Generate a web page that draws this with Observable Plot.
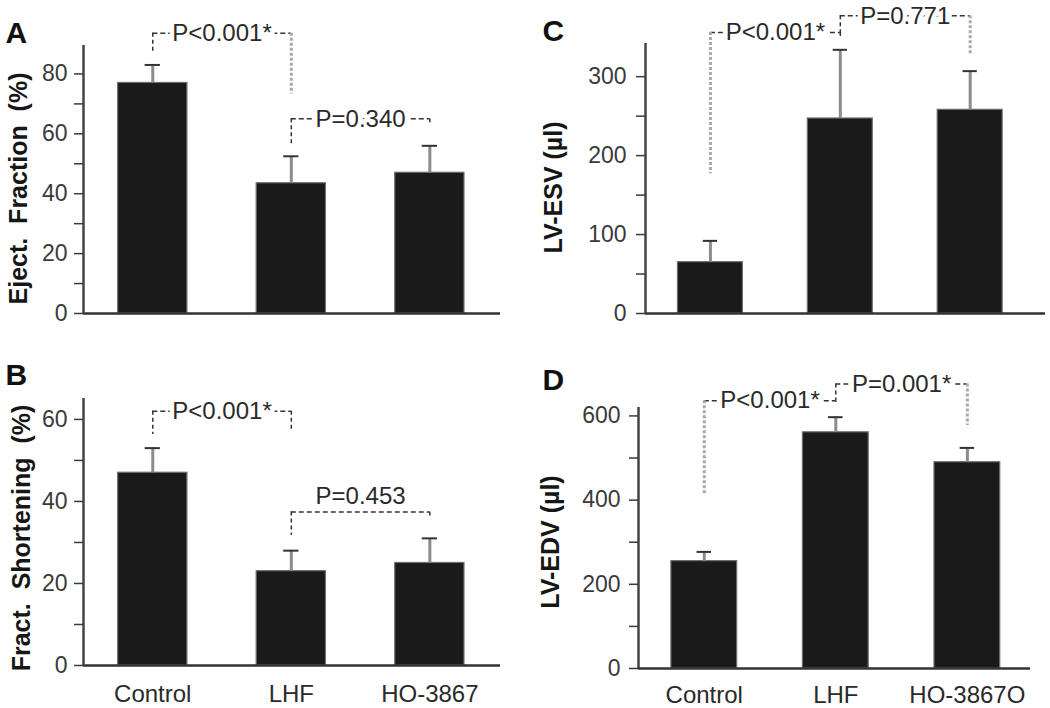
<!DOCTYPE html>
<html><head><meta charset="utf-8">
<script src="https://cdn.jsdelivr.net/npm/d3@7"></script>
<script src="https://cdn.jsdelivr.net/npm/@observablehq/plot@0.6"></script>
<style>
body{margin:0;background:#fff;}
#wrap{position:relative;width:1050px;height:708px;overflow:hidden;background:#fff;}
#wrap svg{position:absolute;}
</style></head><body><div id="wrap"></div>
<script>
// ---------- data ----------
const groups = ["Control", "LHF", "HO-3867"];
const groupsD = ["Control", "LHF", "HO-3867O"];

const efMean = [77, 43.5, 47];     const efErr = [6, 9, 9];
const fsMean = [47, 23, 25];       const fsErr = [6, 5, 6];
const esvMean = [65, 247, 258];    const esvErr = [27, 87, 49];
const edvMean = [255, 561, 490];   const edvErr = [22, 36, 34];

const efTicks = [0, 20, 40, 60, 80];     const efMinor = [10, 30, 50, 70];
const fsTicks = [0, 20, 40, 60];         const fsMinor = [10, 30, 50];
const esvTicks = [0, 100, 200, 300];     const esvMinor = [50, 150, 250];
const edvTicks = [0, 200, 400, 600];     const edvMinor = [100, 300, 500];

// significance brackets (group indices, bracket level, leg ends, label) in data units
const efBrackets = [
  {from: 0, to: 1, level: 93.6, leftEnd: 86.7, rightEnd: 73.3, label: "P<0.001*"},
  {from: 1, to: 2, level: 65, leftEnd: 56.7, rightEnd: 63.3, label: "P=0.340"}
];
const fsBrackets = [
  {from: 0, to: 1, level: 62, leftEnd: 56.3, rightEnd: 57.3, label: "P<0.001*"},
  {from: 1, to: 2, level: 37.4, leftEnd: 31.7, rightEnd: 36.2, label: "P=0.453"}
];
const esvBrackets = [
  {from: 0, to: 1, level: 356, leftEnd: 177, rightEnd: 350, label: "P<0.001*"},
  {from: 1, to: 2, level: 377, leftEnd: 353, rightEnd: 327, label: "P=0.771"}
];
const edvBrackets = [
  {from: 0, to: 1, level: 636, leftEnd: 415, rightEnd: 632, label: "P<0.001*"},
  {from: 1, to: 2, level: 676, leftEnd: 636, rightEnd: 577, label: "P=0.001*"}
];

// ---------- drawing ----------
const FONT = "'Liberation Sans', Arial, Helvetica, sans-serif";

function panel(cfg) {
  const rows = cfg.mean.map((m, i) => ({i, mean: m, err: cfg.err[i]}));
  const yMax = cfg.yDomain[1];
  const legs = cfg.brackets.flatMap(b => [
    {x: b.from, y1: b.level, y2: b.leftEnd},
    {x: b.to, y1: b.level, y2: b.rightEnd}
  ]);
  const isLong = l => (l.y1 - l.y2) > 0.12 * yMax;
  const inline = cfg.brackets.filter((b, k) => !cfg.above.includes(k));
  const above = cfg.brackets.filter((b, k) => cfg.above.includes(k));
  const textStyle = {fontSize: 24, fill: "#2a2a2a", fontFamily: FONT};

  const marks = [
    Plot.rect(rows, {x1: d => d.i - 0.25, x2: d => d.i + 0.25, y1: 0, y2: "mean",
      fill: "#1a1a1a", stroke: "#6e6e6e", strokeWidth: 1.2}),
    Plot.ruleX(rows, {x: "i", y1: "mean", y2: d => d.mean + d.err, stroke: "#8c8c8c", strokeWidth: 3}),
    Plot.ruleY(rows, {y: d => d.mean + d.err, x1: d => d.i - 0.055, x2: d => d.i + 0.055,
      stroke: "#333", strokeWidth: 2}),
    Plot.ruleY([0], {stroke: "#333", strokeWidth: 2.5}),
    Plot.ruleX([cfg.xDomain[0]], {stroke: "#444", strokeWidth: 2.5}),
    Plot.axisY({ticks: cfg.ticks, tickSize: 9, tickPadding: cfg.tickPad, color: "#3a3a3a",
      strokeWidth: 1.5, fontSize: 23, fontFamily: FONT, label: null}),
    Plot.axisY({ticks: cfg.minor, tickSize: 9, text: null, color: "#3a3a3a", strokeWidth: 1.5, label: null}),
    // bracket horizontal
    Plot.ruleY(cfg.brackets, {y: "level", x1: "from", x2: "to", stroke: "#333",
      strokeDasharray: "5,3", strokeWidth: 1.5}),
    Plot.ruleX(legs.filter(l => !isLong(l)), {x: "x", y1: "y1", y2: "y2", stroke: "#333",
      strokeDasharray: "4,3", strokeWidth: 1.5}),
    Plot.ruleX(legs.filter(isLong), {x: "x", y1: "y1", y2: "y2", stroke: "#a9a9a9",
      strokeDasharray: "3,2", strokeWidth: 3}),
    Plot.text(inline, {x: d => (d.from + d.to) / 2, y: "level", text: "label", lineAnchor: "middle",
      stroke: "white", strokeWidth: 9, paintOrder: "stroke", ...textStyle}),
    Plot.text(above, {x: d => (d.from + d.to) / 2, y: "level", text: "label", lineAnchor: "bottom",
      dy: -8, ...textStyle}),
    Plot.text([cfg.ylabel], {frameAnchor: "left", rotate: -90, dx: cfg.labelDx, dy: cfg.labelDy,
      textAnchor: "middle", lineAnchor: "middle", fontSize: 25, fontWeight: "bold", fill: "#161616", fontFamily: FONT}),
    Plot.text([cfg.letter], {frameAnchor: "top-left", textAnchor: "start", lineAnchor: "top",
      dx: cfg.letterDx, dy: cfg.letterDy, fontSize: 30, fontWeight: "bold", fill: "#111", fontFamily: FONT})
  ];
  if (cfg.cats) {
    marks.push(Plot.axisX({ticks: [0, 1, 2], tickFormat: i => cfg.cats[i], tickSize: 0,
      tickPadding: cfg.xPad, fontSize: 24, color: "#2a2a2a", fontFamily: FONT, label: null}));
  }
  const svg = Plot.plot({
    width: cfg.width, height: cfg.height,
    marginLeft: cfg.ml, marginRight: cfg.mr, marginTop: cfg.mt, marginBottom: cfg.mb,
    x: {type: "linear", domain: cfg.xDomain, axis: null},
    y: {domain: cfg.yDomain, axis: null},
    style: {fontFamily: FONT, fontSize: "23px", background: "transparent", overflow: "visible"},
    marks
  });
  svg.style.left = cfg.left + "px";
  svg.style.top = cfg.top + "px";
  document.getElementById("wrap").appendChild(svg);
}

panel({letter: "A", ylabel: "Eject.\u00a0 Fraction \u00a0(%)", mean: efMean, err: efErr,
  ticks: efTicks, minor: efMinor, brackets: efBrackets, above: [],
  left: 0, top: 0, width: 520, height: 330, ml: 83, mr: 20, mt: 45, mb: 17,
  yDomain: [0, 89.5], xDomain: [-0.5, 2.51], tickPad: 7,
  labelDx: -65, labelDy: 9, letterDx: -78, letterDy: -24});

panel({letter: "B", ylabel: "Fract.\u00a0 Shortening \u00a0(%)", mean: fsMean, err: fsErr,
  ticks: fsTicks, minor: fsMinor, brackets: fsBrackets, above: [1], cats: groups, xPad: 19,
  left: 0, top: 330, width: 520, height: 378, ml: 83, mr: 20, mt: 68, mb: 43,
  yDomain: [0, 65.1], xDomain: [-0.5, 2.51], tickPad: 7,
  labelDx: -62, labelDy: 6, letterDx: -78, letterDy: -35});

panel({letter: "C", ylabel: "LV-ESV (\u00b5l)", mean: esvMean, err: esvErr,
  ticks: esvTicks, minor: esvMinor, brackets: esvBrackets, above: [],
  left: 520, top: 0, width: 530, height: 330, ml: 125, mr: 5, mt: 43, mb: 17,
  yDomain: [0, 342], xDomain: [-0.5, 2.58], tickPad: 10,
  labelDx: -92, labelDy: 9, letterDx: -103, letterDy: -24});

panel({letter: "D", ylabel: "LV-EDV (\u00b5l)", mean: edvMean, err: edvErr,
  ticks: edvTicks, minor: edvMinor, brackets: edvBrackets, above: [], cats: groupsD, xPad: 17,
  left: 520, top: 330, width: 530, height: 378, ml: 118, mr: 20, mt: 77, mb: 40,
  yDomain: [0, 620], xDomain: [-0.5, 2.48], tickPad: 9,
  labelDx: -88, labelDy: 4, letterDx: -96, letterDy: -39});
</script>
</body></html>
